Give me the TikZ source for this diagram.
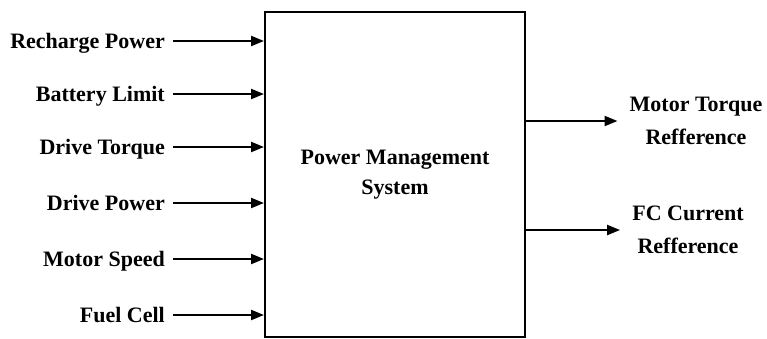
\documentclass[tikz,border=0pt]{standalone}
\usepackage{fontspec}
\setmainfont{Liberation Serif}
\usetikzlibrary{arrows.meta}
\begin{document}
\begin{tikzpicture}[x=1pt,y=-1pt,
  every node/.style={font=\fontsize{22}{33}\selectfont\bfseries},
  inlabel/.style={anchor=east,inner xsep=8pt,inner ysep=0pt,text height=14.6pt,text depth=0pt},
  outlabel/.style={align=center,inner xsep=12pt,inner ysep=0pt},
  sysbox/.style={draw,line width=2pt,minimum width=260pt,minimum height=325pt,align=center,font=\fontsize{22}{30}\selectfont\bfseries},
  sig/.style={line width=2.2pt,-{Triangle[length=13pt,width=10pt]}}]
\useasboundingbox (0,0) rectangle (767,338);
\node[sysbox] (box) at (395,174.5) {Power Management\\System};
\node[inlabel] (l1) at (173,41) {Recharge Power};
\node[inlabel] (l2) at (173,94) {Battery Limit};
\node[inlabel] (l3) at (173,147) {Drive Torque};
\node[inlabel] (l4) at (173,203) {Drive Power};
\node[inlabel] (l5) at (173,259) {Motor Speed};
\node[inlabel] (l6) at (173,315) {Fuel Cell};
\foreach \n in {l1,l2,l3,l4,l5,l6}
  \draw[sig] (\n.east) -- (\n.east -| box.west);
\node[outlabel] (o1) at (696,121) {Motor Torque\\Refference};
\node[outlabel] (o2) at (688,230) {FC Current\\Refference};
\draw[sig] (o1.west -| box.east) -- (o1.west);
\draw[sig] (o2.west -| box.east) -- (o2.west);
\end{tikzpicture}
\end{document}
